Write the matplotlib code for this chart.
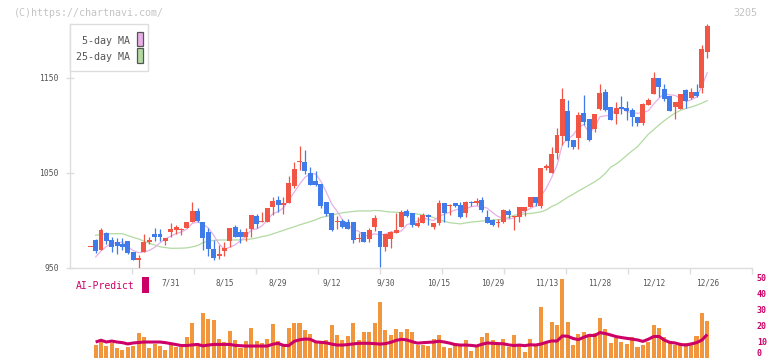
import matplotlib
matplotlib.use('Agg')
import matplotlib.pyplot as plt
from matplotlib.patches import Rectangle
import numpy as np

W, H = 772, 361

# ---- data (one candle per trading day, last = 12/26) ----
date_labels = ['7/31', '8/15', '8/29', '9/12', '9/30', '10/15', '10/29', '11/13', '11/28', '12/12', '12/26']
label_idx = [15, 25, 35, 45, 55, 65, 75, 85, 95, 105, 115]

opens = [971.3, 979.2, 968.7, 986.6, 979.2, 977.1, 975.0, 978.5, 966.9, 958.4,
         966.2, 977.1, 985.5, 985.0, 978.5, 987.3, 989.4, 990.0, 992.2, 998.5,
         1010.1, 997.9, 987.6, 970.0, 962.6, 968.0, 978.5, 993.2, 987.6, 982.7,
         990.8, 1004.8, 998.0, 998.5, 1014.3, 1021.4, 1016.6, 1018.5, 1036.1, 1061.7,
         1061.8, 1049.8, 1041.4, 1038.0, 1019.0, 1008.0, 998.5, 999.2, 998.2, 998.2,
         980.0, 987.3, 980.3, 993.2, 988.7, 972.1, 980.6, 986.3, 993.2, 1010.1,
         1007.4, 994.3, 997.4, 1005.2, 992.9, 996.8, 1018.5, 1015.5, 1017.9, 1016.1,
         1007.4, 1019.0, 1018.7, 1021.4, 1003.8, 1000.3, 997.2, 998.5, 1010.1, 1003.6,
         1003.1, 1010.1, 1013.7, 1024.5, 1015.0, 1054.8, 1050.2, 1071.2, 1088.8, 1115.2,
         1084.6, 1086.4, 1113.1, 1106.8, 1096.2, 1117.6, 1135.2, 1119.8, 1112.0, 1119.4,
         1118.4, 1116.3, 1109.2, 1102.2, 1121.5, 1133.1, 1150.3, 1138.4, 1131.0, 1119.1,
         1117.6, 1137.3, 1129.2, 1134.9, 1139.1, 1177.1]
highs = [971.8, 980.0, 991.9, 988.0, 982.0, 981.6, 981.3, 978.5, 966.9, 963.4,
         985.5, 982.4, 991.9, 990.5, 981.6, 997.1, 995.0, 991.5, 998.5, 1019.3,
         1013.3, 998.5, 992.2, 979.0, 974.0, 977.0, 992.2, 995.3, 990.5, 991.5,
         1005.6, 1007.0, 1008.7, 1012.9, 1024.9, 1025.6, 1024.9, 1047.0, 1061.8, 1078.3,
         1074.0, 1056.2, 1052.0, 1038.0, 1019.0, 1008.0, 1004.5, 1001.0, 1001.0, 998.2,
         986.3, 987.3, 991.5, 1005.9, 988.7, 985.8, 989.0, 1008.0, 1010.8, 1011.9,
         1008.0, 1003.1, 1007.4, 1006.6, 997.4, 1021.4, 1018.5, 1017.0, 1018.5, 1019.6,
         1020.3, 1020.3, 1023.8, 1024.9, 1010.8, 1001.0, 1001.0, 1011.6, 1011.6, 1004.5,
         1014.3, 1014.3, 1024.5, 1024.5, 1055.1, 1059.3, 1077.0, 1097.0, 1139.8, 1126.8,
         1084.6, 1113.8, 1132.1, 1106.8, 1112.0, 1143.7, 1138.4, 1119.8, 1125.0, 1131.0,
         1125.8, 1118.7, 1109.2, 1123.3, 1128.6, 1156.6, 1150.3, 1143.4, 1131.0, 1124.4,
         1133.1, 1138.0, 1139.1, 1143.7, 1184.8, 1206.9]
lows = [971.3, 966.0, 968.7, 975.0, 966.5, 964.8, 968.3, 964.8, 958.4, 949.4,
        966.2, 975.3, 978.5, 978.5, 974.0, 982.7, 985.8, 984.5, 991.5, 998.5,
        998.5, 968.7, 962.0, 958.4, 959.0, 962.6, 972.1, 982.0, 976.4, 978.5,
        982.7, 991.5, 997.9, 998.5, 1005.6, 1009.0, 1007.0, 1018.5, 1033.7, 1053.0,
        1048.5, 1037.2, 1036.0, 1012.6, 1004.2, 988.7, 990.8, 991.9, 990.8, 975.7,
        977.4, 977.4, 977.4, 989.0, 951.0, 967.9, 970.5, 986.3, 992.6, 1003.5,
        993.2, 992.6, 996.8, 995.3, 990.5, 995.3, 998.5, 1005.6, 1014.0, 1002.7,
        1003.8, 1015.0, 1016.0, 1009.0, 997.4, 994.3, 993.2, 996.8, 1002.7, 989.7,
        998.5, 1004.5, 1013.7, 1015.0, 1012.6, 1053.0, 1050.2, 1064.3, 1079.4, 1077.6,
        1075.1, 1075.1, 1100.4, 1083.9, 1093.4, 1116.3, 1115.5, 1105.7, 1101.5, 1112.0,
        1105.7, 1099.7, 1099.4, 1100.4, 1121.5, 1133.1, 1130.0, 1126.0, 1115.5, 1107.1,
        1117.6, 1118.7, 1127.9, 1130.0, 1134.5, 1171.4]
closes = [971.8, 967.9, 989.7, 978.5, 972.1, 973.2, 971.5, 965.5, 958.4, 960.5,
          977.1, 979.5, 982.0, 982.0, 981.6, 990.8, 992.9, 990.5, 998.5, 1010.1,
          999.0, 981.6, 970.0, 960.5, 964.4, 971.0, 992.0, 982.7, 982.7, 987.6,
          1005.6, 996.4, 998.8, 1012.9, 1020.7, 1016.1, 1017.2, 1039.0, 1054.4, 1062.8,
          1052.3, 1037.2, 1037.2, 1015.4, 1006.3, 989.7, 999.3, 992.6, 991.1, 979.2,
          980.6, 977.4, 989.7, 1002.7, 972.1, 985.8, 987.6, 989.4, 1009.0, 1004.8,
          995.3, 997.1, 1005.2, 1003.1, 997.4, 1018.5, 1007.4, 1016.0, 1015.0, 1003.8,
          1019.0, 1018.0, 1019.2, 1010.8, 997.4, 995.0, 997.6, 1010.8, 1005.6, 1004.0,
          1013.7, 1014.3, 1024.5, 1018.5, 1055.1, 1057.2, 1069.9, 1089.9, 1127.9, 1083.9,
          1077.6, 1111.0, 1103.9, 1084.6, 1112.0, 1133.9, 1116.3, 1105.7, 1118.7, 1117.6,
          1115.5, 1109.2, 1102.9, 1122.6, 1126.8, 1150.3, 1140.8, 1127.5, 1115.5, 1124.4,
          1133.1, 1126.1, 1134.9, 1131.0, 1180.6, 1204.8]

ma5 = [np.nan, 961.3, 967.6, 972.4, 975.5, 976.3, 977.0, 972.2, 968.1, 965.8,
       966.6, 968.2, 971.5, 976.2, 980.4, 983.2, 985.9, 987.6, 990.9, 996.6,
       998.2, 995.9, 991.8, 984.2, 975.1, 969.5, 971.5, 974.1, 978.4, 982.9,
       989.9, 990.9, 994.0, 1000.2, 1006.9, 1009.0, 1013.0, 1021.1, 1029.4, 1037.9,
       1045.1, 1049.1, 1048.8, 1041.0, 1029.7, 1017.2, 1009.5, 1000.6, 995.7, 990.3,
       988.4, 984.1, 983.5, 985.9, 984.4, 985.5, 987.6, 987.5, 988.8, 995.3,
       997.2, 999.1, 1002.3, 1001.1, 999.6, 1004.3, 1006.3, 1008.5, 1010.9, 1012.1,
       1012.2, 1014.4, 1015.0, 1014.1, 1012.8, 1008.0, 1003.9, 1002.3, 1001.2, 1002.5,
       1006.3, 1009.6, 1012.4, 1015.0, 1025.2, 1033.9, 1045.0, 1058.1, 1080.0, 1085.8,
       1089.8, 1098.1, 1100.9, 1092.2, 1097.8, 1109.1, 1110.1, 1110.5, 1117.3, 1118.4,
       1114.8, 1113.3, 1112.8, 1113.6, 1115.4, 1122.4, 1128.7, 1133.6, 1132.2, 1131.7,
       1128.3, 1125.3, 1126.8, 1129.9, 1141.1, 1155.5]
ma25 = [np.nan, 984.2, 985.0, 985.6, 985.8, 985.8, 985.8, 983.9, 982.0, 980.3,
        978.0, 975.8, 973.9, 972.1, 971.2, 970.5, 970.5, 970.6, 970.9, 972.0,
        973.3, 976.4, 978.0, 978.8, 979.2, 979.2, 979.2, 979.2, 979.3, 979.7,
        980.3, 981.3, 982.8, 983.8, 985.6, 987.5, 989.4, 991.3, 993.1, 995.1,
        996.8, 998.6, 1000.5, 1002.8, 1004.2, 1005.3, 1006.8, 1007.8, 1008.6, 1009.3,
        1009.8, 1009.8, 1009.8, 1010.3, 1010.1, 1009.3, 1008.7, 1008.5, 1008.0, 1007.6,
        1007.1, 1006.5, 1005.6, 1004.7, 1002.8, 1000.5, 998.8, 997.4, 996.8, 996.2,
        997.2, 998.1, 998.6, 999.2, 999.7, 1000.2, 1000.7, 1001.2, 1003.2, 1005.2,
        1006.2, 1006.7, 1007.2, 1007.9, 1008.9, 1011.0, 1014.5, 1017.0, 1020.6, 1024.3,
        1027.5, 1030.8, 1034.0, 1037.2, 1040.5, 1044.3, 1049.5, 1056.0, 1059.2, 1063.5,
        1068.5, 1073.2, 1077.6, 1084.0, 1090.5, 1095.5, 1100.4, 1105.0, 1109.2, 1113.0,
        1115.8, 1117.8, 1119.3, 1121.2, 1123.5, 1126.1]

volume = [np.nan, 7.9, 10.0, 7.3, 9.0, 6.1, 4.8, 6.7, 7.3, 15.4,
          12.9, 6.1, 8.6, 7.3, 4.8, 8.6, 6.7, 6.7, 12.9, 21.7,
          8.6, 27.9, 24.2, 23.6, 11.7, 9.8, 16.7, 11.0, 6.1, 10.4,
          18.6, 10.4, 9.2, 11.7, 21.0, 10.4, 8.0, 18.6, 21.9, 21.9,
          17.5, 15.0, 10.6, 9.0, 11.1, 20.4, 14.2, 11.1, 13.4, 21.9,
          11.1, 16.3, 16.3, 21.9, 34.8, 17.3, 14.2, 17.9, 16.1, 17.9,
          16.1, 7.9, 7.9, 7.3, 11.7, 14.2, 6.7, 6.1, 9.2, 8.6,
          11.1, 4.2, 7.3, 12.9, 15.4, 11.1, 7.9, 11.7, 6.7, 14.2,
          7.3, 3.6, 11.7, 7.9, 31.7, 9.4, 22.5, 20.4, 49.2, 22.5,
          7.9, 14.8, 16.1, 14.2, 15.4, 24.8, 17.9, 9.4, 12.3, 9.8,
          8.6, 12.9, 6.7, 7.9, 9.8, 20.4, 18.6, 12.9, 9.2, 7.9,
          7.9, 9.2, 9.2, 13.6, 28.1, 22.9]
ai_predict = [np.nan, 9.8, 10.9, 9.8, 10.4, 9.8, 9.4, 8.6, 9.2, 9.5,
              9.8, 9.8, 9.8, 9.8, 9.4, 8.8, 8.2, 7.6, 7.6, 8.0,
              8.3, 7.4, 7.9, 8.3, 8.3, 8.3, 8.3, 7.7, 7.5, 7.3,
              7.3, 7.3, 7.3, 7.3, 8.4, 9.0, 7.7, 7.6, 10.2, 11.2,
              11.7, 11.5, 9.9, 9.6, 9.3, 8.5, 7.9, 7.9, 8.2, 8.6,
              9.0, 9.0, 9.0, 8.8, 8.5, 8.8, 9.6, 10.8, 11.5, 11.1,
              10.0, 9.1, 9.4, 9.6, 9.8, 10.3, 9.8, 9.1, 8.2, 7.9,
              7.9, 7.7, 7.3, 8.4, 9.2, 9.0, 8.8, 8.7, 8.0, 7.6,
              7.9, 7.5, 8.1, 7.9, 8.5, 9.6, 10.5, 10.4, 13.6, 13.4,
              12.0, 11.3, 12.8, 14.0, 13.8, 15.7, 15.1, 14.2, 13.2, 12.6,
              12.1, 11.6, 11.1, 10.2, 11.5, 13.2, 13.3, 11.0, 9.6, 9.2,
              8.3, 7.9, 8.6, 9.4, 11.0, 14.5]

# ---- colours / fonts ----
UP = '#F15545'
DOWN = '#3F7BE9'
MA5_C = '#E8B0E8'
MA25_C = '#B2DAA2'
VOL_C = '#F2963E'
AI_C = '#CC0066'
AXIS_C = '#dddddd'
TXT_C = '#555555'
MONO = 'DejaVu Sans Mono'

fig = plt.figure(figsize=(W / 100, H / 100), dpi=100)


def box(l, t, r, b):
    return [l / W, 1 - b / H, (r - l) / W, (b - t) / H]


idx = np.arange(len(closes))
o = np.array(opens)
c = np.array(closes)
xlim = (-3.78, 123.4)

# ---- volume / AI panel (added first so the price panel's labels sit on top) ----
axv = fig.add_axes(box(70, 277.7, 752.3, 357.7))
axv.patch.set_visible(False)
axv.set_xlim(*xlim)
axv.set_ylim(0, 50)
axv.bar(idx, volume, width=0.75, color=VOL_C, lw=0, zorder=2)
axv.plot(idx, ai_predict, color=AI_C, lw=2.2, zorder=3, solid_capstyle='butt')
for s in axv.spines.values():
    s.set_visible(False)
axv.set_xticks([])
axv.yaxis.tick_right()
axv.set_yticks([0, 10, 20, 30, 40, 50])
axv.set_yticklabels(['0', '10', '20', '30', '40', '50'], family=MONO, fontweight='bold')
axv.tick_params(axis='y', length=0, labelcolor=AI_C, labelsize=6, pad=3.3)
axv.get_yticklabels()[0].set_va('bottom')

# ---- price panel ----
ax = fig.add_axes(box(70, 24, 752.3, 267.7))
ax.patch.set_visible(False)
ax.set_xlim(*xlim)
ax.set_ylim(950, 1206.9)

ax.plot(idx, ma25, color=MA25_C, lw=0.9, zorder=2)
ax.plot(idx, ma5, color=MA5_C, lw=0.9, zorder=2)

cols = [UP if cc >= oo else DOWN for oo, cc in zip(o, c)]
ax.vlines(idx, lows, highs, colors=cols, lw=0.9, zorder=3)
bottoms = np.minimum(o, c)
heights = np.maximum(np.abs(c - o), 1.1)
ax.bar(idx, heights, bottom=bottoms, width=0.92, color=cols, lw=0, zorder=4)

for s in ['top', 'right']:
    ax.spines[s].set_visible(False)
for s in ['left', 'bottom']:
    ax.spines[s].set_color(AXIS_C)
    ax.spines[s].set_linewidth(1.0)

ax.set_yticks([950, 1050, 1150])
ax.set_yticklabels(['950', '1050', '1150'], family=MONO)
ax.tick_params(axis='y', direction='inout', length=5.8, width=1.0, color=AXIS_C,
               labelcolor=TXT_C, labelsize=5.8, pad=5.2)
ax.set_xticks(np.linspace(xlim[0], xlim[1], 12)[1:])
ax.set_xticklabels([])
ax.tick_params(axis='x', direction='out', length=4.2, width=1.0, color=AXIS_C)

for lab, i in zip(date_labels, label_idx):
    ax.text(i, -0.061, lab, transform=ax.get_xaxis_transform(), ha='center', va='center',
            fontsize=5.6, family=MONO, color=TXT_C, clip_on=False)

# ---- overlay: header texts, legend, AI label ----
ov = fig.add_axes([0, 0, 1, 1])
ov.set_xlim(0, W)
ov.set_ylim(H, 0)
ov.axis('off')
ov.patch.set_alpha(0)

ov.text(14, 12.5, '(C)https://chartnavi.com/', ha='left', va='center', fontsize=7.2,
        family=MONO, color='#c4c4c4')
ov.text(757, 12.5, '3205', ha='right', va='center', fontsize=7.2, family=MONO, color='#c4c4c4')

ov.add_patch(Rectangle((70, 24), 78, 47, fc='white', ec=AXIS_C, lw=1.0))
ov.text(129.5, 41, '5-day MA', ha='right', va='center', fontsize=7.2, family=MONO, color=TXT_C)
ov.text(129.5, 56.7, '25-day MA', ha='right', va='center', fontsize=7.2, family=MONO, color=TXT_C)
ov.add_patch(Rectangle((136.7, 31.7), 6, 14.3, fc=MA5_C, ec='#555555', lw=0.9))
ov.add_patch(Rectangle((136.7, 48.3), 6, 15, fc=MA25_C, ec='#555555', lw=0.9))

ov.text(76, 286, 'AI-Predict', ha='left', va='center', fontsize=7.05, family=MONO, color=AI_C)
ov.add_patch(Rectangle((142.3, 276.7), 6.7, 16, fc=AI_C, ec='none'))

fig.savefig('out.png', dpi=100)
